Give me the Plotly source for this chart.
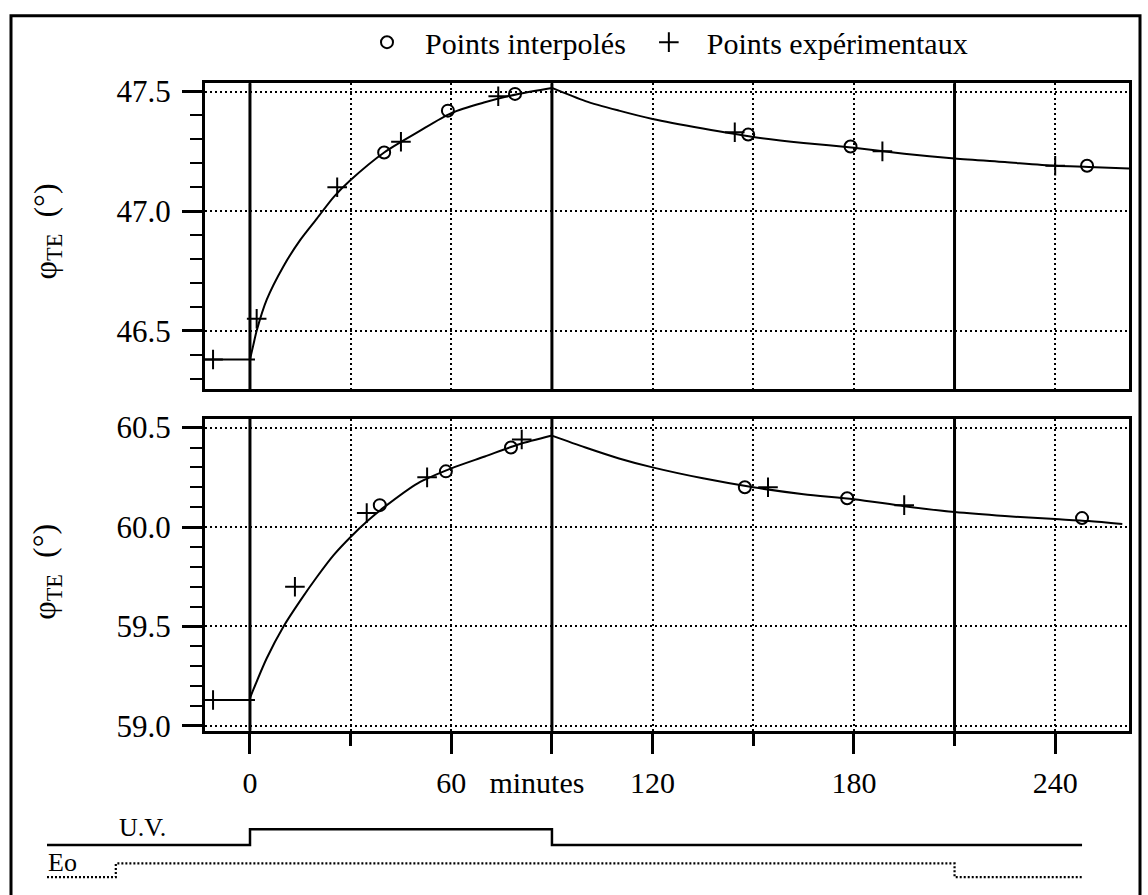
import plotly.graph_objects as go

# ---------------- time axis (minutes) ----------------
T_MIN, T_MAX = -13.4, 262.0
MAJOR_MIN = [0, 60, 90, 120, 180, 240]
MAJOR_TXT = ["0", "60", "minutes\u00a0\u00a0\u00a0\u00a0", "120", "180", "240"]
MINOR_MIN = [30, 150, 210]
EVENT_MIN = [0, 90, 210]          # U.V. on, U.V. off, Eo change

# ---------------- upper sample ----------------
top_base = 46.38
top_rise_t = [0, 1, 2, 5, 10, 15, 20, 25, 30, 40, 50, 60, 70, 80, 90]
top_rise_v = [46.38, 46.44, 46.50, 46.63, 46.77, 46.88, 46.97, 47.06, 47.13,
              47.245, 47.33, 47.41, 47.455, 47.49, 47.515]
top_decay_t = [90, 100, 110, 120, 135, 150, 165, 180, 195, 210, 225, 240, 250, 262]
top_decay_v = [47.515, 47.46, 47.42, 47.385, 47.345, 47.31, 47.285, 47.265,
               47.24, 47.22, 47.205, 47.19, 47.185, 47.178]
top_interp_t = [40, 59, 79, 148.5, 179, 249.5]
top_interp_v = [47.245, 47.42, 47.49, 47.32, 47.27, 47.19]
top_exp_t = [-11, 2, 26, 45, 74, 144.5, 188.5, 240]
top_exp_v = [46.38, 46.55, 47.10, 47.29, 47.48, 47.33, 47.25, 47.19]

# ---------------- lower sample ----------------
bot_base = 59.13
bot_rise_t = [0, 5, 10, 15, 20, 25, 30, 35, 40, 50, 60, 70, 80, 90]
bot_rise_v = [59.14, 59.34, 59.50, 59.63, 59.75, 59.86, 59.95, 60.03, 60.10,
              60.22, 60.295, 60.355, 60.415, 60.46]
bot_decay_t = [90, 100, 110, 120, 135, 150, 165, 180, 195, 210, 225, 240, 250, 260]
bot_decay_v = [60.46, 60.40, 60.345, 60.30, 60.245, 60.20, 60.165, 60.14,
               60.105, 60.075, 60.055, 60.04, 60.03, 60.015]
bot_interp_t = [38.7, 58.4, 77.8, 147.5, 178, 248]
bot_interp_v = [60.11, 60.28, 60.40, 60.20, 60.145, 60.045]
bot_exp_t = [-11, 13.4, 34.8, 52.8, 81, 154.4, 195]
bot_exp_v = [59.13, 59.70, 60.07, 60.25, 60.44, 60.20, 60.11]

# ---------------- illumination sequence ----------------
uv_t = [-60.5, 0, 0, 90, 90, 248]
uv_on = [0, 0, 1, 1, 0, 0]
eo_t = [-60.5, -40, -40, 210, 210, 248]
eo_on = [0, 0, 1, 1, 0, 0]

FONT = "Liberation Serif"
W, H = 1148, 895
PX_PER_MIN = 3.355
X0_PX = 250  # pixel column of t = 0

fig = go.Figure()


def add_panel(xa, ya, base, rise_t, rise_v, decay_t, decay_v,
              it, iv, et, ev, legend):
    fig.add_trace(go.Scatter(x=[T_MIN, 1.5], y=[base, base], mode="lines",
                             line=dict(color="black", width=2),
                             xaxis=xa, yaxis=ya, showlegend=False, hoverinfo="skip"))
    for tt, vv in ((rise_t, rise_v), (decay_t, decay_v)):
        fig.add_trace(go.Scatter(x=tt, y=vv, mode="lines",
                                 line=dict(color="black", width=2, shape="spline",
                                           smoothing=0.8),
                                 xaxis=xa, yaxis=ya, showlegend=False))
    fig.add_trace(go.Scatter(x=it, y=iv, mode="markers", name="Points interpolés",
                             marker=dict(symbol="circle-open", size=12, color="black",
                                         line=dict(width=2, color="black")),
                             xaxis=xa, yaxis=ya, showlegend=legend))
    fig.add_trace(go.Scatter(x=et, y=ev, mode="markers", name="Points expérimentaux",
                             marker=dict(symbol="cross-thin", size=14, color="black",
                                         line=dict(width=2, color="black")),
                             xaxis=xa, yaxis=ya, showlegend=legend))


add_panel("x", "y", top_base, top_rise_t, top_rise_v, top_decay_t, top_decay_v,
          top_interp_t, top_interp_v, top_exp_t, top_exp_v, True)
add_panel("x2", "y2", bot_base, bot_rise_t, bot_rise_v, bot_decay_t, bot_decay_v,
          bot_interp_t, bot_interp_v, bot_exp_t, bot_exp_v, False)

# illumination sequence on a full-width time axis (y3 in pixels from the bottom)
UV_LOW, UV_STEP = 38, 16
EO_LOW, EO_STEP = 5, 14
fig.add_trace(go.Scatter(x=uv_t, y=[UV_LOW + UV_STEP * s for s in uv_on],
                         mode="lines", line=dict(color="black", width=2.5),
                         xaxis="x3", yaxis="y3", showlegend=False))
fig.add_trace(go.Scatter(x=eo_t, y=[EO_LOW + EO_STEP * s for s in eo_on],
                         mode="lines", line=dict(color="black", width=2.2, dash="2px,2px"),
                         xaxis="x3", yaxis="y3", showlegend=False))

x_dom = [205 / W, 1129 / W]
top_dom = [1 - 390 / H, 1 - 76 / H]
bot_dom = [1 - 740 / H, 1 - 420 / H]

GRID = dict(gridcolor="black", gridwidth=2, griddash="2px,3px")
frame = dict(showline=True, linecolor="black", linewidth=3, mirror=True, zeroline=False)

xcommon = dict(domain=x_dom, range=[T_MIN, T_MAX], tickvals=MAJOR_MIN, showgrid=True,
               **GRID, **frame)
yticks = dict(dtick=0.5, tick0=0, tickformat=".1f", ticks="outside", ticklen=20,
              tickwidth=2.5, tickcolor="black", ticklabelstandoff=5,
              tickfont=dict(size=31), showgrid=True, **GRID, **frame,
              minor=dict(dtick=0.1, tick0=0, ticks="outside", ticklen=12,
                         tickwidth=2, tickcolor="black", showgrid=False))
fig.update_layout(
    xaxis=dict(anchor="y", showticklabels=False, ticks="",
               minor=dict(tickvals=MINOR_MIN, ticks="", showgrid=True, **GRID),
               **xcommon),
    xaxis2=dict(anchor="y2", ticktext=MAJOR_TXT, ticks="outside", ticklen=20,
                tickwidth=2.5, tickcolor="black", ticklabelstandoff=3,
                tickfont=dict(size=30),
                minor=dict(tickvals=MINOR_MIN, ticks="outside", ticklen=12,
                           tickwidth=2.5, tickcolor="black", showgrid=True, **GRID),
                **xcommon),
    yaxis=dict(domain=top_dom, anchor="x", range=[46.255, 47.535], **yticks),
    yaxis2=dict(domain=bot_dom, anchor="x2", range=[58.975, 60.545], **yticks),
    xaxis3=dict(domain=[0, 1], anchor="y3",
                range=[-X0_PX / PX_PER_MIN, (W - X0_PX) / PX_PER_MIN], visible=False),
    yaxis3=dict(domain=[0, 0.1], anchor="x3", range=[0, 0.1 * H], visible=False),
)

# event markers: solid verticals across both panels
for t in EVENT_MIN:
    for xr, yr in (("x", "y domain"), ("x2", "y2 domain")):
        fig.add_shape(type="line", xref=xr, yref=yr, x0=t, x1=t, y0=0, y1=1,
                      line=dict(color="black", width=3))

# outer frame
fig.add_shape(type="rect", xref="paper", yref="paper", x0=11 / W, x1=1140 / W,
              y0=-0.02, y1=1 - 7 / H, line=dict(color="black", width=3))

title = "φ<sub>TE</sub>  (°)"
for yc in (228, 577):
    fig.add_annotation(text=title, xref="paper", yref="paper", x=47 / W, y=1 - yc / H,
                       xanchor="center", yanchor="middle", textangle=-90,
                       showarrow=False, font=dict(size=32))
fig.add_annotation(text="U.V.", xref="x3", yref="y3", x=-32, y=UV_LOW + 1,
                   xanchor="center", yanchor="bottom", showarrow=False,
                   font=dict(size=26))
fig.add_annotation(text="Eo", xref="x3", yref="y3", x=-56, y=EO_LOW - 2,
                   xanchor="center", yanchor="bottom", showarrow=False,
                   font=dict(size=26))

fig.update_layout(
    width=W, height=H,
    margin=dict(l=0, r=0, t=0, b=0),
    paper_bgcolor="white", plot_bgcolor="white",
    font=dict(family=FONT, color="black", size=30),
    legend=dict(orientation="h", x=349 / W, y=1 - 34 / H, xanchor="left",
                yanchor="middle", font=dict(size=30), bgcolor="rgba(0,0,0,0)",
                itemwidth=66),
)

fig.write_html("out.html")
